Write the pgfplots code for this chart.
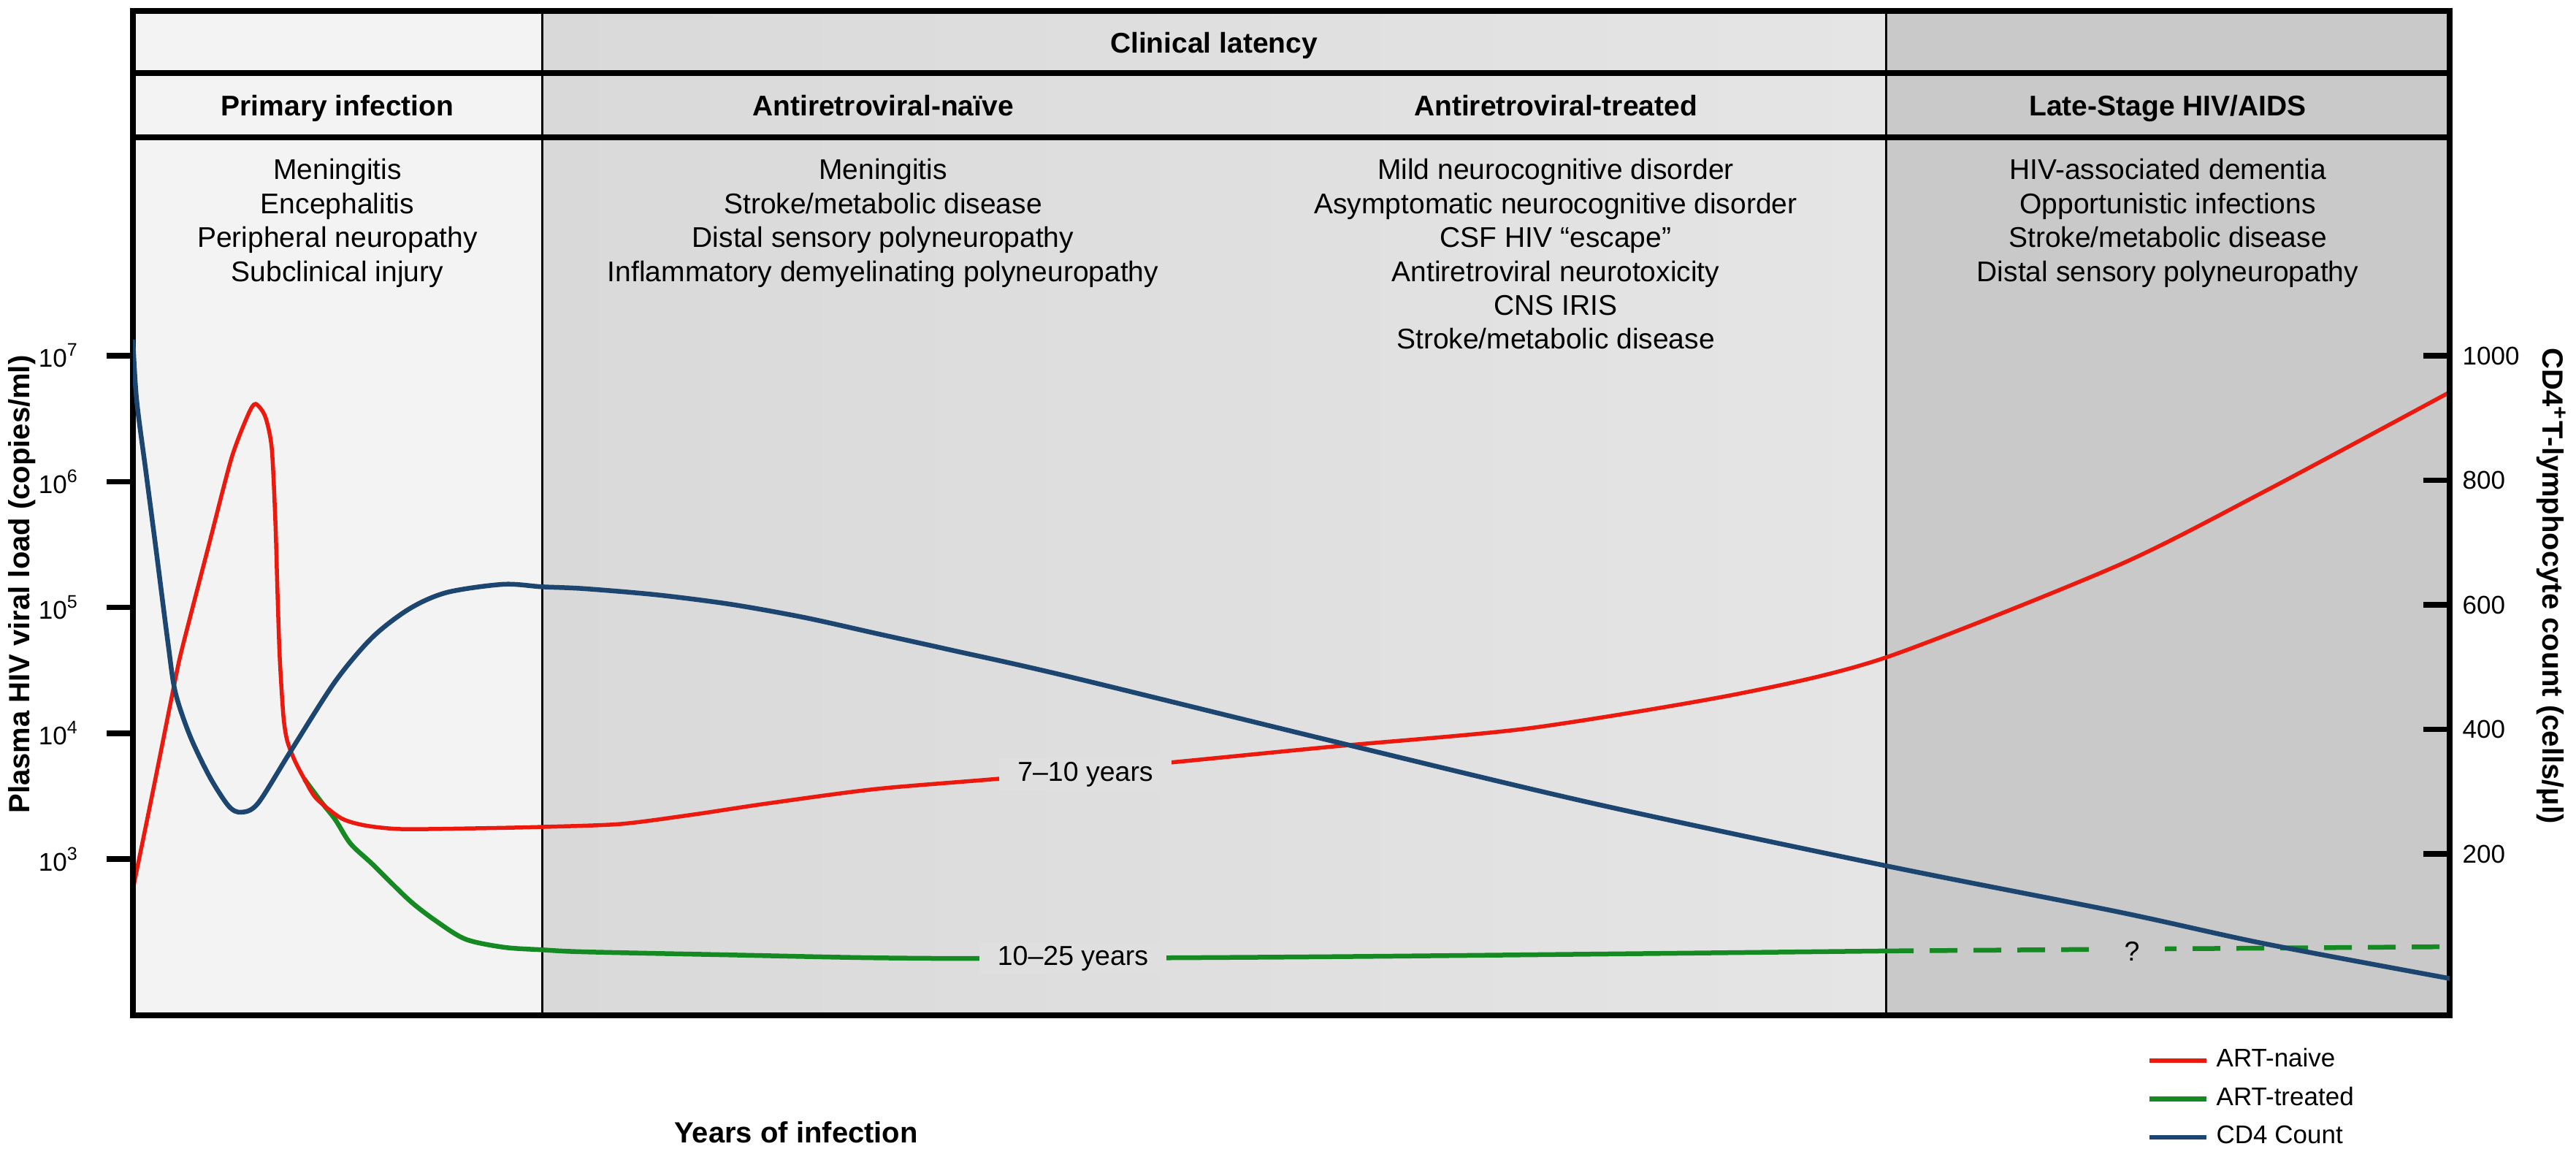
\documentclass[border=0pt]{standalone}
\usepackage{fontspec}
\setmainfont{Liberation Sans}
\usepackage{pgfplots}
\pgfplotsset{compat=1.18}
\definecolor{cred}{HTML}{EC1A0E}
\definecolor{cgreen}{HTML}{158A22}
\definecolor{cblue}{HTML}{1C4670}
\definecolor{bgprim}{HTML}{F3F3F3}
\definecolor{bglatL}{HTML}{D9D9D9}
\definecolor{bglatR}{HTML}{E5E5E5}
\definecolor{bglat}{HTML}{DFDFDF}
\definecolor{bglate}{HTML}{C9C9C9}
\newcommand{\lst}{\fontsize{7.8pt}{9.28pt}\selectfont}
\newcommand{\hdr}{\bfseries\fontsize{7.8pt}{9.28pt}\selectfont}
\begin{document}
\begin{tikzpicture}
\path[use as bounding box] (0,0) rectangle (705.4pt,314.4pt);
\begin{axis}[
  at={(36.4pt,36.4pt)}, anchor=south west, scale only axis,
  width=634.4pt, height=275pt,
  xmin=182, xmax=3354, ymode=log, ymin=57.25, ymax=5.498e9,
  xtick=\empty,
  ytick={1e3,1e4,1e5,1e6,1e7},
  yticklabels={10\textsuperscript{3},10\textsuperscript{4},10\textsuperscript{5},10\textsuperscript{6},10\textsuperscript{7}},
  yminorticks=false,
  ytick pos=left, tick align=outside, major tick length=7.2pt,
  every tick/.style={line width=1.5pt, black},
  axis line style={line width=1.5pt},
  yticklabel style={font=\fontsize{7pt}{8pt}\selectfont, xshift=-4pt},
  ylabel={Plasma HIV viral load (copies/ml)},
  ylabel style={at={(axis description cs:-0.0479,0.4291)}, anchor=center, font=\bfseries\fontsize{8pt}{9pt}\selectfont},
  xlabel={Years of infection},
  xlabel style={at={(axis description cs:0.2863,-0.1164)}, anchor=center, font=\bfseries\fontsize{8pt}{9pt}\selectfont},
  axis on top,
  legend style={draw=none, fill=none, at={(rel axis cs:0.8692,-0.025)}, anchor=north west,
    font=\fontsize{7pt}{8pt}\selectfont, inner sep=0pt, row sep=0pt},
  legend cell align=left,
  legend image code/.code={\draw[#1, line width=1.3pt] (0pt,0pt) -- (15.6pt,0pt);},
]
% backgrounds
\fill[bgprim] (rel axis cs:0,0) rectangle (rel axis cs:0.17654,1);
\fill[left color=bglatL, right color=bglatR] (rel axis cs:0.17654,0) rectangle (rel axis cs:0.75662,1);
\fill[bglate] (rel axis cs:0.75662,0) rectangle (rel axis cs:1,1);
\draw[line width=0.6pt] (rel axis cs:0.17654,0) -- (rel axis cs:0.17654,1);
\draw[line width=0.6pt] (rel axis cs:0.75662,0) -- (rel axis cs:0.75662,1);
\draw[line width=1.5pt] (rel axis cs:0,0.9382) -- (rel axis cs:1,0.9382);
\draw[line width=1.5pt] (rel axis cs:0,0.8742) -- (rel axis cs:1,0.8742);
% headers
\node[font=\hdr, anchor=base] at (rel axis cs:0.46658,0.9585) {Clinical latency};
\node[font=\hdr, anchor=base] at (rel axis cs:0.08827,0.8953) {Primary infection};
\node[font=\hdr, anchor=base] at (rel axis cs:0.32377,0.8953) {Antiretroviral-naïve};
\node[font=\hdr, anchor=base] at (rel axis cs:0.61412,0.8953) {Antiretroviral-treated};
\node[font=\hdr, anchor=base] at (rel axis cs:0.87831,0.8953) {Late-Stage HIV/AIDS};
% lists (anchor base = baseline of the last line)
\node[font=\lst, align=center, anchor=base, inner sep=0pt] at (rel axis cs:0.08827,0.7309)
  {Meningitis\\Encephalitis\\Peripheral neuropathy\\Subclinical injury};
\node[font=\lst, align=center, anchor=base, inner sep=0pt] at (rel axis cs:0.32377,0.7309)
  {Meningitis\\Stroke/metabolic disease\\Distal sensory polyneuropathy\\Inflammatory demyelinating polyneuropathy};
\node[font=\lst, align=center, anchor=base, inner sep=0pt] at (rel axis cs:0.61412,0.6633)
  {Mild neurocognitive disorder\\Asymptomatic neurocognitive disorder\\CSF HIV “escape”\\Antiretroviral neurotoxicity\\CNS IRIS\\Stroke/metabolic disease};
\node[font=\lst, align=center, anchor=base, inner sep=0pt] at (rel axis cs:0.87831,0.7309)
  {HIV-associated dementia\\Opportunistic infections\\Stroke/metabolic disease\\Distal sensory polyneuropathy};
% legend entries
\addlegendimage{cred}\addlegendentry{ART-naive}
\addlegendimage{cgreen}\addlegendentry{ART-treated}
\addlegendimage{cblue}\addlegendentry{CD4 Count}
% ART-treated
\addplot[cgreen, line width=1.3pt, smooth, tension=0.5, forget plot] coordinates {
 (417,4295) (440,2838) (459,2059) (480,1324) (510,910) (561,467) (600,313) (638,230)
 (690,199) (742,190) (800,183) (1000,173) (1200,164) (1400,162) (1800,167) (2200,176) (2582,186)};
\addplot[cgreen, line width=1.3pt, dash pattern=on 7.6pt off 4.4pt, forget plot] coordinates {
 (2582,186) (3354,201)};
% ART-naive
\addplot[cred, line width=1.1pt, smooth, tension=0.45, forget plot] coordinates {
 (182,578) (210,3606) (240,26790) (250,48870) (287,331000) (317,1538000) (340,3434000)
 (350,4140000) (363,3300000) (372,1857000) (377,487500) (380,128000) (383,40000)
 (388,13740) (393,8830) (403,6166) (417,4295) (433,3034) (467,2113) (500,1849)
 (550,1730) (650,1754) (742,1800) (850,1900) (950,2260) (1050,2762) (1200,3606)
 (1379,4406) (1611,5916) (1825,7834) (2093,10940) (2379,20510) (2582,40000)
 (2900,215800) (3100,832000) (3352,5060000)};
% curve labels
\node[font=\fontsize{7.5pt}{8pt}\selectfont, fill=bglat, inner xsep=5pt, inner ysep=1pt] at (rel axis cs:0.4111,0.24) {7–10 years};
\node[font=\fontsize{7.5pt}{8pt}\selectfont, fill=bglat, inner xsep=5pt, inner ysep=1pt] at (rel axis cs:0.40574,0.0567) {10–25 years};
\node[font=\fontsize{7.5pt}{8pt}\selectfont, fill=bglate, inner xsep=7pt, inner ysep=1pt] at (rel axis cs:0.86286,0.064) {?};
\end{axis}
\begin{axis}[
  at={(36.4pt,36.4pt)}, anchor=south west, scale only axis,
  width=634.4pt, height=275pt,
  xmin=182, xmax=3354, ymin=-59.2, ymax=1553.7,
  hide x axis, axis y line*=right,
  ytick={200,400,600,800,1000},
  yticklabels={200,400,600,800,1000},
  tick align=inside, major tick length=7.2pt,
  every tick/.style={line width=1.5pt, black},
  axis line style={line width=1.5pt, -},
  yticklabel style={font=\fontsize{7pt}{8pt}\selectfont},
  ylabel={CD4\textsuperscript{+}T-lymphocyte count (cells/μl)},
  ylabel style={at={(axis description cs:1.0438,0.4276)}, anchor=center, rotate=180, font=\bfseries\fontsize{8pt}{9pt}\selectfont},
]
\addplot[cblue, line width=1.3pt, smooth, tension=0.5] coordinates {
 (182,1026) (187,930) (200,812) (213,695) (230,539) (240,460) (260,390) (287,324)
 (313,277) (330,267) (353,281) (398,365) (459,477) (510,548) (561,594) (612,620)
 (689,633) (742,629) (800,626) (900,616) (1000,601) (1100,580) (1200,554) (1300,528)
 (1459,486) (1825,381) (2182,281) (2582,181) (2900,107) (3100,56) (3354,0)};
\end{axis}
\end{tikzpicture}
\end{document}
